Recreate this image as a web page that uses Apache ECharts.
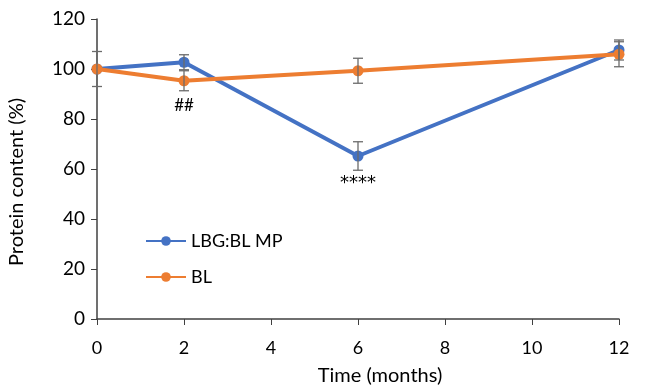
<!DOCTYPE html>
<html><head><meta charset="utf-8">
<script src="https://cdn.jsdelivr.net/npm/echarts@6/dist/echarts.min.js"></script>
<style>html,body{margin:0;padding:0;background:#fff}#c{width:650px;height:388px}</style>
</head><body><div id="c"></div>
<script>
const months = [0, 2, 6, 12];
const lbgValues = [100, 102.7, 65.2, 107.6];
const lbgErrors = [7, 3, 5.7, 4];
const blValues = [100, 95.3, 99.3, 105.9];
const blErrors = [0, 4, 5, 5];
const annotations = [{x: 2, y: 85.2, text: '##'}, {x: 6, y: 54.4, text: '****'}];
const xTicks = [0, 2, 4, 6, 8, 10, 12];
const yTicks = [0, 20, 40, 60, 80, 100, 120];

const FONT = 'Lato';
const annotationFonts = [{family: 'Lato', size: 17}, {family: 'DejaVu Sans', size: 18}];
const chart = echarts.init(document.getElementById('c'), null, {renderer: 'canvas'});

function errData(vals, errs) {
  return months.map((m, i) => [m, vals[i] - errs[i], vals[i] + errs[i]]);
}
function errRender(params, api) {
  const x = api.value(0), lo = api.value(1), hi = api.value(2);
  if (hi - lo <= 0) return null;
  const p1 = api.coord([x, hi]), p2 = api.coord([x, lo]);
  const w = 5;
  const st = {stroke: '#6b6b6b', lineWidth: 1.3};
  return {type: 'group', children: [
    {type: 'line', shape: {x1: p1[0], y1: p1[1], x2: p2[0], y2: p2[1]}, style: st},
    {type: 'line', shape: {x1: p1[0]-w, y1: p1[1], x2: p1[0]+w, y2: p1[1]}, style: st},
    {type: 'line', shape: {x1: p2[0]-w, y1: p2[1], x2: p2[0]+w, y2: p2[1]}, style: st}
  ]};
}

const option = {
  animation: false,
  grid: {left: 97, right: 31, top: 19, bottom: 69, outerBoundsMode: 'none', containLabel: false},
  legend: {
    orient: 'vertical', left: 140, top: 227, itemGap: 18,
    itemWidth: 40, itemHeight: 12,
    textStyle: {fontFamily: FONT, fontSize: 18, color: '#000'},
    data: ['LBG:BL MP', 'BL']
  },
  xAxis: {
    type: 'value', min: 0, max: 12, interval: 2,
    name: 'Time (months)', nameLocation: 'middle', nameGap: 47,
    nameTextStyle: {fontFamily: FONT, fontSize: 20, color: '#000', padding: [0, 0, 0, 44]},
    axisLine: {lineStyle: {color: '#404040', width: 1.5}},
    axisTick: {show: true, length: 6, lineStyle: {color: '#404040'}},
    axisLabel: {fontFamily: FONT, fontSize: 18, color: '#000', margin: 20,
      formatter: v => xTicks.includes(v) ? String(v) : ''},
    splitLine: {show: false}
  },
  yAxis: {
    type: 'value', min: 0, max: 120, interval: 20,
    name: 'Protein content (%)', nameLocation: 'middle', nameGap: 70,
    nameTextStyle: {fontFamily: FONT, fontSize: 20, color: '#000', padding: [0, 26, 0, 0]},
    axisLine: {show: true, lineStyle: {color: '#404040', width: 1.5}},
    axisTick: {show: true, length: 6, lineStyle: {color: '#404040'}},
    axisLabel: {fontFamily: FONT, fontSize: 19, color: '#000', margin: 12,
      formatter: v => yTicks.includes(v) ? String(v) : ''},
    splitLine: {show: false}
  },
  series: [
    {name: 'LBG:BL MP', type: 'line', data: months.map((m, i) => [m, lbgValues[i]]),
     symbol: 'circle', symbolSize: 11, color: '#4472C4', lineStyle: {width: 4, color: '#4472C4'}, z: 3},
    {name: 'BL', type: 'line', data: months.map((m, i) => [m, blValues[i]]),
     symbol: 'circle', symbolSize: 11, color: '#ED7D31', lineStyle: {width: 4, color: '#ED7D31'}, z: 4},
    {type: 'custom', renderItem: errRender, data: errData(lbgValues, lbgErrors), z: 5, silent: true},
    {type: 'custom', renderItem: errRender, data: errData(blValues, blErrors), z: 5, silent: true},
    {type: 'custom', silent: true, z: 6,
     data: annotations.map(a => [a.x, a.y, a.text]),
     renderItem: (params, api) => {
       const p = api.coord([api.value(0), api.value(1)]);
       const f = annotationFonts[params.dataIndex];
       return {type: 'text', x: p[0], y: p[1], style: {
         text: annotations[params.dataIndex].text, fontFamily: f.family, fontSize: f.size,
         fill: '#000', align: 'center', verticalAlign: 'middle'}};
     }}
  ]
};
chart.setOption(option);
</script></body></html>
